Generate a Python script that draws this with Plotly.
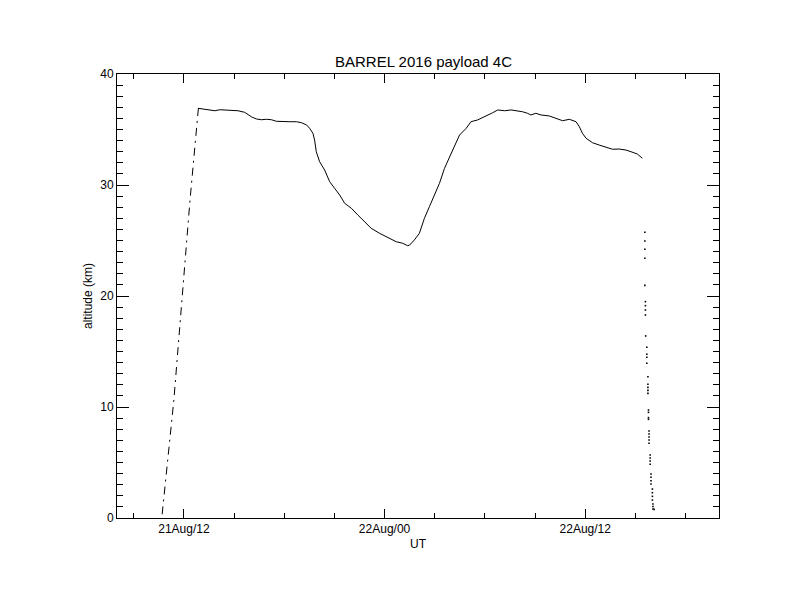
import plotly.graph_objects as go
import pandas as pd

# ---- data ----
ascent_time = ["2016-08-21 10:42", "2016-08-21 11:24", "2016-08-21 12:22", "2016-08-21 12:52"]
ascent_alt = [0.33, 10.63, 28.65, 36.91]

float_time = [
    "2016-08-21 12:51", "2016-08-21 13:09", "2016-08-21 13:33", "2016-08-21 13:51", "2016-08-21 14:09",
    "2016-08-21 14:45", "2016-08-21 15:14", "2016-08-21 15:38", "2016-08-21 15:50", "2016-08-21 16:02",
    "2016-08-21 16:20", "2016-08-21 16:38", "2016-08-21 16:56", "2016-08-21 17:14", "2016-08-21 17:32",
    "2016-08-21 17:50", "2016-08-21 18:20", "2016-08-21 18:44", "2016-08-21 19:02", "2016-08-21 19:20",
    "2016-08-21 19:31", "2016-08-21 19:43", "2016-08-21 19:49", "2016-08-21 19:55", "2016-08-21 20:07",
    "2016-08-21 20:25", "2016-08-21 20:43", "2016-08-21 21:01", "2016-08-21 21:19", "2016-08-21 21:37",
    "2016-08-21 22:01", "2016-08-21 22:24", "2016-08-21 22:48", "2016-08-21 23:12", "2016-08-21 23:42",
    "2016-08-22 00:12", "2016-08-22 00:42", "2016-08-22 01:05", "2016-08-22 01:23", "2016-08-22 01:30",
    "2016-08-22 01:47", "2016-08-22 02:05", "2016-08-22 02:23", "2016-08-22 02:41", "2016-08-22 02:59",
    "2016-08-22 03:17", "2016-08-22 03:35", "2016-08-22 03:53", "2016-08-22 04:11", "2016-08-22 04:29",
    "2016-08-22 04:53", "2016-08-22 05:10", "2016-08-22 05:34", "2016-08-22 05:58", "2016-08-22 06:16",
    "2016-08-22 06:28", "2016-08-22 06:46", "2016-08-22 07:10", "2016-08-22 07:34", "2016-08-22 07:52",
    "2016-08-22 08:15", "2016-08-22 08:33", "2016-08-22 08:45", "2016-08-22 09:03", "2016-08-22 09:21",
    "2016-08-22 09:51", "2016-08-22 10:15", "2016-08-22 10:39", "2016-08-22 11:03", "2016-08-22 11:27",
    "2016-08-22 11:39", "2016-08-22 11:50", "2016-08-22 12:03", "2016-08-22 12:26", "2016-08-22 12:50",
    "2016-08-22 13:14", "2016-08-22 13:38", "2016-08-22 14:02", "2016-08-22 14:26", "2016-08-22 14:44",
    "2016-08-22 15:07", "2016-08-22 15:25",
]
float_alt = [
    36.91, 36.85, 36.78, 36.69, 36.78,
    36.73, 36.69, 36.55, 36.31, 36.15,
    35.95, 35.88, 35.92, 35.88, 35.74,
    35.70, 35.70, 35.70, 35.61, 35.41,
    35.11, 34.66, 34.05, 33.00, 32.10,
    31.35, 30.30, 29.70, 29.10, 28.35,
    27.90, 27.30, 26.69, 26.10, 25.65,
    25.29, 24.89, 24.75, 24.53, 24.59,
    25.05, 25.65, 27.00, 28.05, 29.10,
    30.15, 31.50, 32.55, 33.60, 34.50,
    35.11, 35.70, 35.86, 36.15, 36.31,
    36.51, 36.76, 36.69, 36.76, 36.69,
    36.60, 36.46, 36.31, 36.46, 36.31,
    36.22, 36.01, 35.79, 35.92, 35.70,
    35.25, 34.66, 34.21, 33.81, 33.60,
    33.40, 33.22, 33.24, 33.15, 33.00,
    32.79, 32.41,
]

descent_time = [
    "2016-08-22 15:34", "2016-08-22 15:34", "2016-08-22 15:34", "2016-08-22 15:34", "2016-08-22 15:34",
    "2016-08-22 15:36", "2016-08-22 15:36", "2016-08-22 15:36", "2016-08-22 15:36",
    "2016-08-22 15:37", "2016-08-22 15:41", "2016-08-22 15:41", "2016-08-22 15:41", "2016-08-22 15:41",
    "2016-08-22 15:45", "2016-08-22 15:45", "2016-08-22 15:45", "2016-08-22 15:45", "2016-08-22 15:45",
    "2016-08-22 15:47", "2016-08-22 15:47", "2016-08-22 15:47", "2016-08-22 15:47",
    "2016-08-22 15:49", "2016-08-22 15:49", "2016-08-22 15:49", "2016-08-22 15:49", "2016-08-22 15:49",
    "2016-08-22 15:53", "2016-08-22 15:53", "2016-08-22 15:53", "2016-08-22 15:53",
    "2016-08-22 15:56", "2016-08-22 15:56", "2016-08-22 15:56", "2016-08-22 15:56",
    "2016-08-22 16:01", "2016-08-22 16:01", "2016-08-22 16:01", "2016-08-22 16:01",
    "2016-08-22 16:03", "2016-08-22 16:03", "2016-08-22 16:03", "2016-08-22 16:07",
]
descent_alt = [
    25.74, 24.95, 24.21, 23.40, 20.96,
    19.49, 19.13, 18.74, 18.29,
    16.40, 15.38, 14.75, 14.48, 13.94,
    12.73, 12.05, 11.77, 11.50, 11.23,
    9.73, 9.52, 9.04, 8.89,
    7.84, 7.57, 7.30, 7.03, 6.73,
    5.68, 5.41, 5.14, 4.84,
    3.96, 3.67, 3.36, 3.06,
    2.61, 2.28, 1.95, 1.62,
    1.26, 1.04, 0.81, 0.78,
]

x_range = ["2016-08-21 08:00", "2016-08-22 20:00"]
x_tickvals = ["2016-08-21 12:00", "2016-08-22 00:00", "2016-08-22 12:00"]
x_ticktext = ["21Aug/12", "22Aug/00", "22Aug/12"]
y_range = [0, 40]
y_tickvals = [0, 10, 20, 30, 40]

FONT = "Liberation Sans, Arial, Helvetica, sans-serif"

fig = go.Figure()
fig.add_trace(go.Scatter(x=pd.to_datetime(ascent_time), y=ascent_alt, mode="lines",
                         line=dict(color="black", width=1, dash="8px,5px,2px,5px"),
                         showlegend=False, hoverinfo="skip"))
fig.add_trace(go.Scatter(x=pd.to_datetime(float_time), y=float_alt, mode="lines",
                         line=dict(color="black", width=1), showlegend=False))
fig.add_trace(go.Scatter(x=pd.to_datetime(descent_time), y=descent_alt, mode="markers",
                         marker=dict(color="black", size=1.6, symbol="square", line=dict(width=0)),
                         showlegend=False))

# the page body has an 8px margin, so the figure is sized/offset to compensate
fig.update_layout(
    width=784, height=604,
    margin=dict(l=109, r=73, t=66, b=94),
    paper_bgcolor="white", plot_bgcolor="white",
    font=dict(family=FONT, size=12, color="black"),
    title=dict(text="BARREL 2016 payload 4C", x=0.53, xanchor="center", y=1 - 54 / 604,
               yanchor="middle", font=dict(size=15, family=FONT, color="black")),
)
fig.update_xaxes(
    type="date", range=x_range, tickmode="array", tickvals=x_tickvals, ticktext=x_ticktext,
    ticks="inside", ticklen=9, tickwidth=1, tickcolor="black",
    minor=dict(dtick=3 * 3600 * 1000, tick0="2016-08-21 00:00", ticks="inside", ticklen=5,
               tickwidth=1, tickcolor="black", showgrid=False),
    showline=True, linecolor="black", linewidth=1, mirror="allticks",
    showgrid=False, zeroline=False,
    title=dict(text="UT", standoff=4, font=dict(size=12)),
    tickfont=dict(size=12),
)
fig.update_yaxes(
    range=y_range, tickmode="array", tickvals=y_tickvals,
    ticks="inside", ticklen=12, tickwidth=1, tickcolor="black",
    minor=dict(dtick=1, tick0=0, ticks="inside", ticklen=6, tickwidth=1, tickcolor="black",
               showgrid=False),
    showline=True, linecolor="black", linewidth=1, mirror="allticks",
    showgrid=False, zeroline=False,
    title=dict(text="altitude (km)", standoff=5, font=dict(size=12)),
    tickfont=dict(size=12),
)

fig.write_html("out.html")
